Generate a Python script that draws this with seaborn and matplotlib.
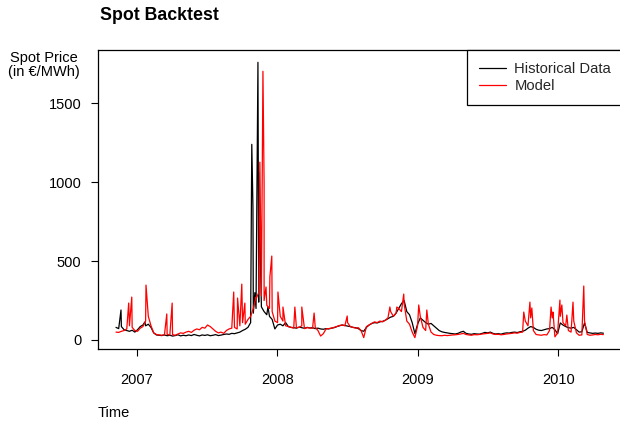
import matplotlib
matplotlib.use("Agg")
import matplotlib.pyplot as plt
import pandas as pd
import seaborn as sns

# ---------------- data ----------------
week_start = "2006-11-08"   # weekly base samples start here (7-day steps)

hist_weekly = [
    80, 72, 85, 65, 60, 55, 62, 50, 65, 85, 95, 90, 100, 80, 45, 32, 30, 28, 32, 27,
    30, 25, 28, 33, 26, 30, 27, 32, 28, 35, 30, 26, 32, 29, 33, 27, 30, 34, 28, 31,
    35, 38, 36, 42, 40, 45, 50, 60, 68, 80, 110, 170, 200, 240, 210, 180, 160, 150, 130, 70,
    95, 100, 90, 110, 85, 80, 78, 75, 82, 78, 74, 80, 76, 78, 72, 75, 70, 68, 72, 70,
    75, 78, 85, 90, 95, 92, 88, 85, 80, 78, 72, 60, 55, 80, 95, 105, 110, 108, 115, 118,
    125, 135, 145, 150, 170, 200, 230, 250, 180, 160, 110, 40, 100, 140, 125, 110, 100, 105, 90, 75,
    60, 52, 48, 45, 42, 40, 38, 42, 50, 55, 42, 38, 36, 40, 38, 37, 42, 48, 45, 50,
    42, 38, 40, 37, 42, 45, 44, 48, 50, 47, 52, 55, 62, 75, 85, 80, 68, 62, 60, 65,
    70, 72, 80, 65, 40, 108, 95, 85, 78, 75, 80, 65, 50, 52, 108, 48, 45, 42, 44, 42,
    45, 43,
]

model_weekly = [
    50, 48, 55, 60, 70, 90, 80, 60, 55, 75, 85, 120, 150, 90, 45, 35, 32, 30, 33, 35,
    32, 34, 30, 38, 45, 42, 50, 55, 48, 62, 70, 65, 80, 75, 95, 85, 70, 55, 45, 50,
    42, 60, 70, 75, 80, 70, 90, 110, 100, 130, 150, 200, 260, 300, 280, 250, 220, 200, 180, 120,
    110, 150, 120, 90, 85, 80, 75, 78, 80, 90, 72, 78, 76, 74, 80, 60, 25, 40, 70, 72,
    75, 80, 85, 92, 95, 90, 110, 85, 80, 75, 78, 60, 15, 85, 95, 105, 115, 110, 120, 115,
    125, 140, 180, 150, 170, 200, 180, 230, 120, 100, 50, 15, 90, 150, 80, 60, 100, 50, 35, 30,
    28, 27, 30, 28, 30, 32, 33, 35, 38, 42, 35, 32, 30, 34, 33, 35, 38, 40, 42, 45,
    38, 35, 36, 33, 35, 38, 40, 42, 45, 43, 48, 50, 120, 90, 140, 60, 35, 32, 30, 34,
    32, 60, 140, 20, 45, 150, 110, 90, 60, 50, 120, 45, 30, 32, 120, 35, 30, 32, 35, 33,
    36, 34,
]

hist_spike_dates = ["2006-11-21", "2007-01-22", "2007-10-27", "2007-10-30",
                    "2007-11-04", "2007-11-12", "2007-11-14", "2007-12-08"]
hist_spike_values = [190, 114, 1240, 840, 300, 1760, 1060, 210]

model_spike_dates = ["2006-12-11", "2006-12-19", "2007-01-25", "2007-03-20", "2007-04-03",
                     "2007-09-10", "2007-09-20", "2007-10-01", "2007-10-09", "2007-11-07",
                     "2007-11-17", "2007-11-25", "2007-11-28", "2007-12-03", "2007-12-13",
                     "2007-12-18", "2008-01-03", "2008-01-16", "2008-02-16", "2008-03-05",
                     "2008-04-06", "2008-07-01", "2008-10-20", "2008-11-07", "2008-11-25",
                     "2009-01-03", "2009-01-24", "2009-10-03", "2009-10-19", "2009-10-24",
                     "2009-12-13", "2009-12-18", "2010-01-05", "2010-01-10", "2010-01-23",
                     "2010-02-08", "2010-03-08"]
model_spike_values = [234, 272, 348, 165, 234,
                      304, 266, 354, 234, 272,
                      1127, 1703, 994, 336, 400,
                      532, 304, 209, 209, 209,
                      171, 152, 209, 209, 291,
                      222, 190, 177, 240, 203,
                      209, 177, 253, 222, 158,
                      240, 342]

y_ticks = [0, 500, 1000, 1500]
x_tick_years = ["2007", "2008", "2009", "2010"]
series_names = ["Historical Data", "Model"]

# ---------------- build tables ----------------
weeks = pd.date_range(week_start, periods=len(hist_weekly), freq="7D")


def build(weekly, sdates, svals, name):
    base = pd.DataFrame({"Time": weeks, "Price": weekly})
    sp = pd.DataFrame({"Time": pd.to_datetime(sdates), "Price": svals})
    df = pd.concat([base, sp]).sort_values("Time").reset_index(drop=True)
    df["Series"] = name
    return df


hist = build(hist_weekly, hist_spike_dates, hist_spike_values, series_names[0])
model = build(model_weekly, model_spike_dates, model_spike_values, series_names[1])

# ---------------- figure ----------------
sns.set_theme(style="white")
plt.rcParams['font.family'] = ['Liberation Sans', 'DejaVu Sans']

W, H = 620, 421
fig = plt.figure(figsize=(W / 100, H / 100), dpi=100)
ax = fig.add_axes([98.3 / W, 1 - 349.3 / H, (623 - 98.3) / W, (349.3 - 50) / H])

sns.lineplot(data=hist, x="Time", y="Price", color="black", lw=0.9,
             estimator=None, sort=False, ax=ax, label=series_names[0])
sns.lineplot(data=model, x="Time", y="Price", color="#ff0000", lw=0.9,
             estimator=None, sort=False, ax=ax, label=series_names[1])

ax.set_xlim(pd.Timestamp("2006-09-23"), pd.Timestamp("2010-06-18"))
ax.set_ylim(-59, 1838)
ax.set_yticks(y_ticks)
ax.set_yticklabels([str(v) for v in y_ticks])
ax.set_xticks([pd.Timestamp(f"{y}-01-01") for y in x_tick_years])
ax.set_xticklabels(x_tick_years)
ax.set_xlabel("")
ax.set_ylabel("")

for s in ax.spines.values():
    s.set_color("black")
    s.set_linewidth(0.9)
ax.tick_params(axis="both", which="major", direction="out", length=5.2, width=0.8,
               colors="black", labelsize=10.5)
ax.tick_params(axis="x", bottom=True, top=False, pad=12)
ax.tick_params(axis="y", left=True, right=False, pad=7)

leg = ax.legend(loc="upper right", frameon=True, fancybox=False, edgecolor="black",
                framealpha=1, borderaxespad=0, fontsize=10.6, handlelength=1.8,
                handletextpad=0.6, labelspacing=0.22, borderpad=0.8)
leg.get_frame().set_linewidth(0.9)

fig.text(100 / W, 1 - 16 / H, "Spot Backtest", fontsize=12.8, fontweight="bold",
         ha="left", va="center", color="black")
fig.text(44 / W, 1 - 65 / H, "Spot Price\n(in €/MWh)", fontsize=10.5, ha="center",
         va="center", linespacing=1.05, color="black")
fig.text(98 / W, 1 - 413 / H, "Time", fontsize=10.5, ha="left", va="center", color="black")

fig.savefig("out.png", dpi=100)
